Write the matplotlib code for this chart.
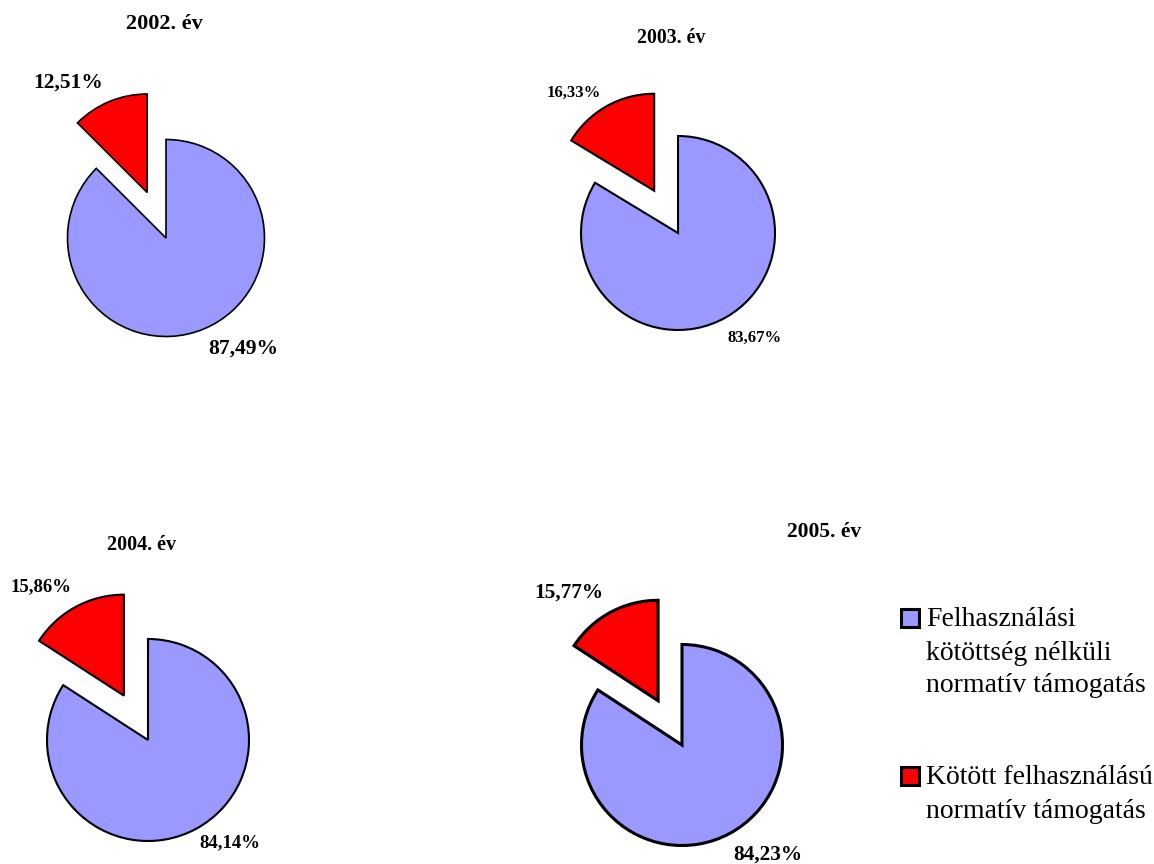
import matplotlib
matplotlib.use("Agg")
import matplotlib.pyplot as plt
from matplotlib.patches import Rectangle

plt.rcParams['font.family'] = ['Liberation Serif', 'DejaVu Serif']

W, H = 1154, 864

years = ["2002. év", "2003. év", "2004. év", "2005. év"]
kotetlen = [87.49, 83.67, 84.14, 84.23]   # Felhasználási kötöttség nélküli
kotott = [12.51, 16.33, 15.86, 15.77]     # Kötött felhasználású
legend_labels = [["Felhasználási", "kötöttség nélküli", "normatív támogatás"],
                 ["Kötött felhasználású", "normatív támogatás"]]
colors = ["#9999FF", "#FF0000"]

# layout in pixels: pie centre, radius, edge width, font sizes, title/label positions
centers = [(166, 238), (678, 233), (148, 740), (682, 745)]
radii = [98.5, 97, 101, 100.5]
edge_w = [1.2, 1.5, 1.5, 2.2]
title_pos = [(164, 24), (671, 38), (142, 545), (824, 532)]
title_fs = [16, 14.3, 14.5, 15.5]
small_pos = [(68, 83), (574, 93), (41, 587), (569, 593)]
big_pos = [(243, 349), (755, 338), (230, 843), (768, 855)]
label_fs = [15.5, 12, 13.5, 15.3]

fig = plt.figure(figsize=(W / 100, H / 100), dpi=100)

for i in range(4):
    cx, cy = centers[i]
    r = radii[i]
    ext = 1.7
    ax = fig.add_axes([(cx - ext * r) / W, (H - cy - ext * r) / H,
                       2 * ext * r / W, 2 * ext * r / H])
    ax.pie([kotetlen[i], kotott[i]], colors=colors, startangle=90,
           counterclock=False, explode=[0, 0.5], radius=1,
           wedgeprops=dict(edgecolor="black", linewidth=edge_w[i]))
    ax.set_xlim(-ext, ext)
    ax.set_ylim(-ext, ext)
    ax.set_aspect("equal")
    ax.axis("off")

    fig.text(title_pos[i][0] / W, 1 - title_pos[i][1] / H, years[i],
             ha="center", va="center", fontsize=title_fs[i], fontweight="bold")
    fig.text(small_pos[i][0] / W, 1 - small_pos[i][1] / H,
             f"{kotott[i]:.2f}%".replace(".", ","),
             ha="center", va="center", fontsize=label_fs[i], fontweight="bold")
    fig.text(big_pos[i][0] / W, 1 - big_pos[i][1] / H,
             f"{kotetlen[i]:.2f}%".replace(".", ","),
             ha="center", va="center", fontsize=label_fs[i], fontweight="bold")

# legend drawn by hand
leg_y = [618, 776]
line_gap = 33
for k in range(2):
    fig.patches.append(Rectangle((901 / W, 1 - (leg_y[k] + 9) / H), 18 / W, 18 / H,
                                 transform=fig.transFigure, facecolor=colors[k],
                                 edgecolor="black", linewidth=2.2))
    for j, line in enumerate(legend_labels[k]):
        fig.text(926 / W, 1 - (leg_y[k] + 2 + j * line_gap) / H, line,
                 ha="left", va="center", fontsize=20)

fig.savefig("out.png", dpi=100)
